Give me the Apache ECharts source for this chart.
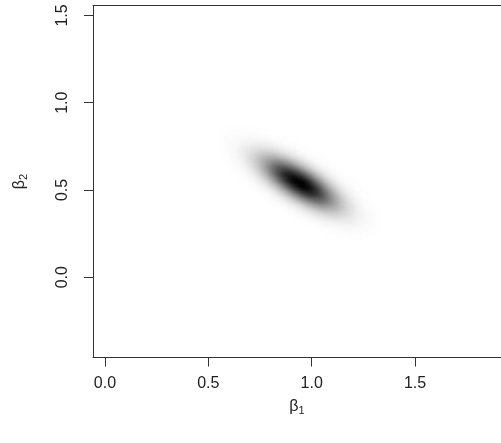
<!DOCTYPE html>
<html>
<head>
<meta charset="utf-8">
<script src="https://cdn.jsdelivr.net/npm/echarts@6/dist/echarts.min.js"></script>
<style>html,body{margin:0;padding:0;background:#fff}#c{width:501px;height:443px}</style>
</head>
<body>
<div id="c"></div>
<script>
// Estimated parameters of the bivariate density shown
const meanBeta = [0.943, 0.542];
const sdBeta = [0.119, 0.097];
const rhoBeta = [-0.73];
const xTicks = [0, 0.5, 1.0, 1.5];
const yTicks = [0, 0.5, 1.0, 1.5];
const xRange = [-0.058, 1.916];
const yRange = [-0.46, 1.557];

const step = 0.005;
const cells = [];
(function build() {
  const mx = meanBeta[0], my = meanBeta[1], sx = sdBeta[0], sy = sdBeta[1], r = rhoBeta[0];
  const k = 1 / (1 - r * r);
  for (let x = mx - 4.5 * sx; x <= mx + 4.5 * sx; x += step) {
    for (let y = my - 4.5 * sy; y <= my + 4.5 * sy; y += step) {
      const zx = (x - mx) / sx, zy = (y - my) / sy;
      const q = k * (zx * zx - 2 * r * zx * zy + zy * zy);
      const d = Math.exp(-q / 2);
      if (d > 0.003) cells.push([x, y, d]);
    }
  }
})();

const chart = echarts.init(document.getElementById('c'), null, {renderer: 'canvas'});
const FONT = 'Liberation Sans, Arial, sans-serif';
const TXT = '#222';
const LINE = '#333';
chart.setOption({
  animation: false,
  backgroundColor: '#fff',
  grid: {left: 93, top: 5.5, right: 0, bottom: 85.5, show: false},
  xAxis: [{
    type: 'value', min: xRange[0], max: xRange[1], position: 'bottom',
    splitLine: {show: false},
    axisLine: {show: true, onZero: false, lineStyle: {color: LINE}},
    axisTick: {show: true, length: 9, customValues: xTicks, lineStyle: {color: LINE}},
    axisLabel: {customValues: xTicks, margin: 18, fontSize: 16, color: TXT, fontFamily: FONT,
      formatter: v => v.toFixed(1)},
    name: '{a|β}{b|1}', nameLocation: 'middle', nameGap: 40,
    nameTextStyle: {fontFamily: FONT, color: TXT, rich: {a: {fontSize: 16, fontFamily: FONT, color: TXT}, b: {fontSize: 11, fontFamily: FONT, color: TXT, padding: [8, 0, 0, 0]}}}
  }, {
    type: 'value', min: xRange[0], max: xRange[1], position: 'top',
    splitLine: {show: false},
    axisLine: {show: true, onZero: false, lineStyle: {color: LINE}},
    axisTick: {show: false}, axisLabel: {show: false}
  }],
  yAxis: {
    type: 'value', min: yRange[0], max: yRange[1],
    splitLine: {show: false},
    axisLine: {show: true, onZero: false, lineStyle: {color: LINE}},
    axisTick: {show: true, length: 9, customValues: yTicks, lineStyle: {color: LINE}},
    axisLabel: {customValues: yTicks, margin: 22, rotate: 90, fontSize: 16, color: TXT, fontFamily: FONT,
      formatter: v => v.toFixed(1)},
    name: '{a|β}{b|2}', nameLocation: 'middle', nameGap: 64, nameRotate: 90,
    nameTextStyle: {fontFamily: FONT, color: TXT, rich: {a: {fontSize: 16, fontFamily: FONT, color: TXT}, b: {fontSize: 11, fontFamily: FONT, color: TXT, padding: [8, 0, 0, 0]}}}
  },
  visualMap: {show: false, type: 'continuous', dimension: 2, min: 0, max: 1, seriesIndex: 0,
    inRange: {color: ['#ffffff', '#000000']}},
  series: [{
    type: 'custom',
    coordinateSystem: 'cartesian2d',
    xAxisIndex: 0, yAxisIndex: 0,
    encode: {x: 0, y: 1},
    clip: true,
    data: cells,
    renderItem: function (params, api) {
      const x = api.value(0), y = api.value(1);
      const p0 = api.coord([x - step / 2, y + step / 2]);
      const p1 = api.coord([x + step / 2, y - step / 2]);
      return {type: 'rect', shape: {x: p0[0], y: p0[1], width: p1[0] - p0[0] + 0.6, height: p1[1] - p0[1] + 0.6},
        style: {fill: api.visual('color')}};
    }
  }]
});
</script>
</body>
</html>
